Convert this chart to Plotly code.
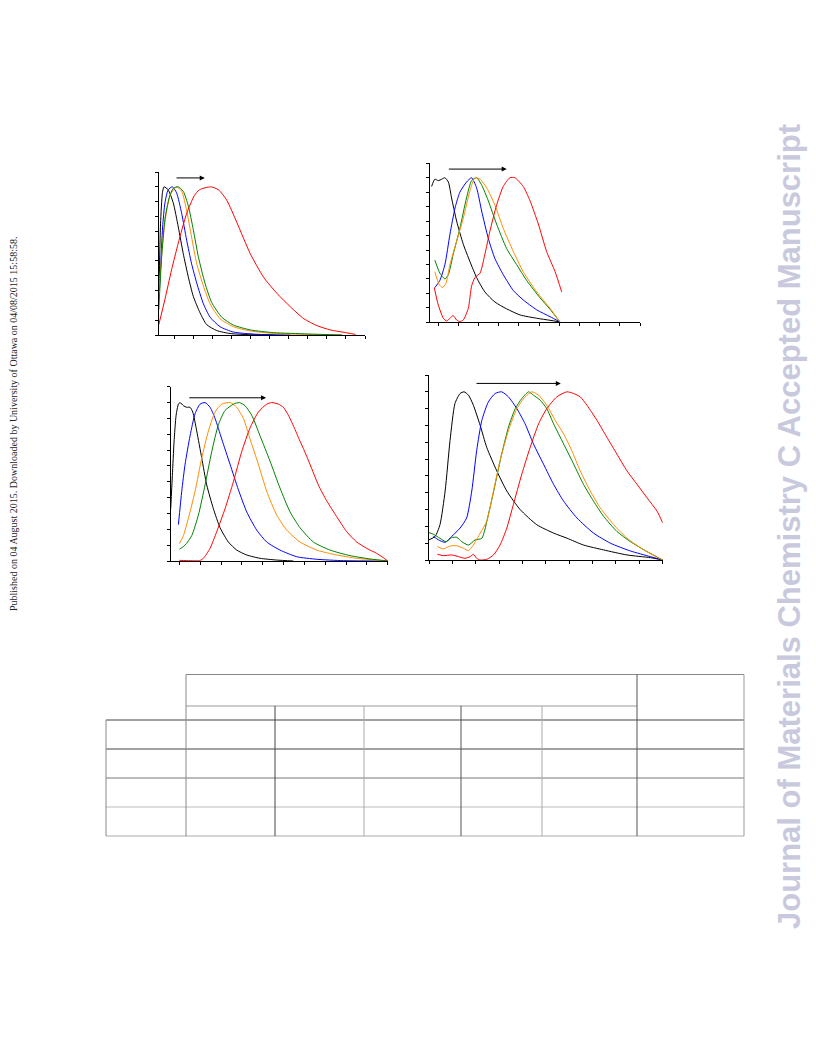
import plotly.graph_objects as go

W, H = 816, 1056
OFF = 8  # page body margin offset in the browser

# ---------------- data (x in tick units, y normalised intensity) ----------------
# Panel 1 (top-left)
p1_black_x = [-0.8, -0.72, -0.62, -0.54, -0.32, -0.05, 0.21, 0.47, 0.74, 1.0, 1.35, 1.70, 2.23, 2.93, 3.98, 5.2]
p1_black_y = [0.3, 0.75, 0.96, 1.0, 0.98, 0.89, 0.73, 0.55, 0.39, 0.26, 0.15, 0.07, 0.03, 0.01, 0.002, 0.0]
p1_blue_x = [-0.78, -0.72, -0.61, -0.49, -0.32, -0.1, 0.12, 0.39, 0.65, 0.91, 1.18, 1.53, 1.88, 2.4, 3.1, 4.3, 6.1]
p1_blue_y = [0.3, 0.44, 0.73, 0.89, 0.98, 1.0, 0.96, 0.82, 0.64, 0.48, 0.35, 0.21, 0.12, 0.056, 0.02, 0.005, 0.0]
p1_orange_x = [-0.8, -0.75, -0.58, -0.40, -0.19, 0.12, 0.39, 0.65, 0.91, 1.18, 1.53, 1.88, 2.4, 3.1, 4.0, 5.2, 7.0, 8.8]
p1_orange_y = [0.3, 0.39, 0.66, 0.84, 0.95, 1.0, 0.97, 0.84, 0.66, 0.48, 0.33, 0.21, 0.11, 0.056, 0.027, 0.011, 0.004, 0.0]
p1_green_x = [-0.81, -0.67, -0.49, -0.26, -0.05, 0.21, 0.47, 0.74, 1.0, 1.26, 1.61, 1.96, 2.49, 3.1, 4.0, 5.2, 7.0, 8.8]
p1_green_y = [0.17, 0.51, 0.78, 0.93, 0.99, 1.0, 0.97, 0.87, 0.71, 0.53, 0.35, 0.22, 0.12, 0.067, 0.034, 0.016, 0.007, 0.0]
p1_red_x = [-0.81, -0.49, -0.14, 0.21, 0.65, 1.05, 1.32, 1.91, 2.32, 2.75, 3.28, 3.98, 4.68, 5.39, 6.09, 6.79, 7.49, 8.19, 8.9, 9.5]
p1_red_y = [0.07, 0.24, 0.44, 0.62, 0.82, 0.94, 0.98, 1.0, 0.98, 0.91, 0.76, 0.55, 0.39, 0.28, 0.19, 0.11, 0.063, 0.034, 0.018, 0.004]

# Panel 2 (top-right)
p2_black_x = [-0.33, -0.17, 0.0, 0.17, 0.33, 0.5, 0.66, 0.91, 1.24, 1.57, 1.9, 2.31, 2.81, 3.39, 4.05, 4.88, 5.54, 6.03]
p2_black_y = [0.94, 0.99, 0.98, 0.99, 1.0, 0.97, 0.86, 0.70, 0.54, 0.42, 0.31, 0.21, 0.14, 0.093, 0.051, 0.028, 0.014, 0.003]
p2_blue_x = [-0.17, 0.08, 0.33, 0.58, 0.83, 1.07, 1.4, 1.65, 1.9, 2.15, 2.48, 2.81, 3.22, 3.72, 4.21, 4.88, 5.54, 6.03]
p2_blue_y = [0.24, 0.29, 0.40, 0.61, 0.79, 0.90, 0.97, 1.0, 0.93, 0.77, 0.58, 0.44, 0.33, 0.22, 0.155, 0.086, 0.039, 0.003]
p2_green_x = [-0.17, 0.08, 0.33, 0.5, 0.74, 1.07, 1.4, 1.65, 1.9, 2.15, 2.48, 2.89, 3.39, 3.88, 4.38, 5.04, 5.54, 6.03]
p2_green_y = [0.43, 0.34, 0.30, 0.33, 0.47, 0.65, 0.86, 0.98, 1.0, 0.95, 0.84, 0.68, 0.51, 0.40, 0.29, 0.17, 0.09, 0.003]
p2_orange_x = [-0.17, 0.05, 0.21, 0.38, 0.58, 0.91, 1.24, 1.57, 1.82, 2.07, 2.40, 2.81, 3.22, 3.72, 4.21, 4.88, 5.54, 6.03]
p2_orange_y = [0.35, 0.26, 0.24, 0.27, 0.40, 0.56, 0.72, 0.91, 1.0, 0.99, 0.93, 0.81, 0.65, 0.49, 0.35, 0.21, 0.097, 0.003]
p2_red_x = [-0.2, 0.0, 0.25, 0.41, 0.58, 0.74, 0.91, 1.07, 1.24, 1.49, 1.65, 1.82, 2.07, 2.31, 2.56, 2.89, 3.22, 3.55, 3.8, 4.21, 4.55, 4.96, 5.37, 5.79, 6.12]
p2_red_y = [0.24, 0.12, 0.028, 0.009, 0.028, 0.046, 0.016, 0.005, 0.016, 0.097, 0.25, 0.31, 0.34, 0.47, 0.63, 0.81, 0.94, 1.0, 1.0, 0.94, 0.84, 0.68, 0.49, 0.35, 0.21]

# Panel 3 (bottom-left)
p3_black_x = [-0.42, -0.34, -0.26, -0.16, -0.05, 0.03, 0.19, 0.35, 0.51, 0.64, 0.83, 1.07, 1.31, 1.63, 1.95, 2.35, 2.75, 3.23, 3.87, 4.67, 5.47]
p3_black_y = [0.33, 0.54, 0.75, 0.92, 0.99, 1.0, 0.98, 0.97, 0.97, 0.94, 0.82, 0.65, 0.48, 0.33, 0.21, 0.12, 0.069, 0.038, 0.017, 0.006, 0.0]
p3_blue_x = [-0.05, 0.11, 0.27, 0.51, 0.75, 0.99, 1.23, 1.47, 1.71, 2.03, 2.43, 2.83, 3.23, 3.71, 4.19, 4.83, 5.63, 6.59, 7.87, 10.0]
p3_blue_y = [0.23, 0.44, 0.61, 0.79, 0.93, 0.99, 1.0, 0.97, 0.90, 0.77, 0.61, 0.45, 0.31, 0.195, 0.12, 0.069, 0.027, 0.011, 0.002, 0.0]
p3_orange_x = [0.0, 0.19, 0.43, 0.75, 1.07, 1.39, 1.71, 2.03, 2.43, 2.75, 3.07, 3.39, 3.79, 4.19, 4.67, 5.15, 5.79, 6.59, 7.55, 8.51, 9.47, 10.0]
p3_orange_y = [0.11, 0.16, 0.27, 0.44, 0.65, 0.82, 0.94, 0.99, 1.0, 0.97, 0.90, 0.77, 0.61, 0.44, 0.29, 0.195, 0.12, 0.069, 0.038, 0.017, 0.006, 0.0]
p3_green_x = [0.0, 0.27, 0.59, 0.91, 1.23, 1.55, 1.87, 2.19, 2.59, 2.88, 3.15, 3.47, 3.87, 4.35, 4.83, 5.31, 5.79, 6.43, 7.23, 8.19, 9.15, 10.0]
p3_green_y = [0.074, 0.10, 0.16, 0.29, 0.48, 0.69, 0.86, 0.95, 0.99, 1.0, 0.98, 0.92, 0.79, 0.63, 0.46, 0.31, 0.21, 0.12, 0.069, 0.034, 0.013, 0.0]
p3_red_x = [0.0, 0.51, 0.96, 1.15, 1.47, 1.79, 2.19, 2.59, 2.99, 3.39, 3.79, 4.19, 4.43, 4.75, 4.99, 5.23, 5.55, 5.71, 5.95, 6.27, 6.67, 7.07, 7.55, 8.03, 8.51, 8.99, 9.47, 9.79, 10.0]
p3_red_y = [0.004, 0.002, 0.002, 0.017, 0.08, 0.185, 0.33, 0.5, 0.69, 0.84, 0.94, 0.99, 1.0, 0.99, 0.97, 0.92, 0.83, 0.78, 0.71, 0.61, 0.48, 0.38, 0.28, 0.185, 0.12, 0.08, 0.048, 0.021, 0.0]

# Panel 4 (bottom-right)
p4_black_x = [0.0, 0.26, 0.47, 0.69, 0.9, 1.11, 1.33, 1.5, 1.69, 1.9, 2.19, 2.47, 2.9, 3.33, 3.9, 4.61, 5.33, 5.9, 6.61, 7.47, 8.47, 9.47, 10.0]
p4_black_y = [0.12, 0.14, 0.21, 0.41, 0.71, 0.93, 0.99, 1.0, 0.98, 0.92, 0.80, 0.67, 0.53, 0.41, 0.30, 0.21, 0.16, 0.13, 0.089, 0.06, 0.03, 0.014, 0.0]
p4_blue_x = [0.19, 0.4, 0.69, 0.97, 1.33, 1.61, 1.83, 2.04, 2.26, 2.54, 2.83, 3.11, 3.4, 3.76, 4.11, 4.47, 4.9, 5.33, 5.76, 6.33, 7.04, 7.76, 8.61, 9.47, 10.0]
p4_blue_y = [0.14, 0.12, 0.105, 0.14, 0.19, 0.25, 0.41, 0.65, 0.83, 0.94, 0.99, 1.0, 0.97, 0.90, 0.81, 0.69, 0.57, 0.45, 0.35, 0.25, 0.16, 0.1, 0.054, 0.02, 0.0]
p4_green_x = [0.0, 0.19, 0.47, 0.73, 0.97, 1.19, 1.4, 1.69, 1.97, 2.26, 2.54, 2.83, 3.11, 3.4, 3.69, 3.97, 4.26, 4.47, 4.76, 5.04, 5.33, 5.76, 6.19, 6.61, 7.04, 7.47, 8.04, 8.61, 9.33, 10.0]
p4_green_y = [0.163, 0.153, 0.129, 0.109, 0.133, 0.135, 0.109, 0.089, 0.119, 0.129, 0.27, 0.45, 0.63, 0.79, 0.90, 0.96, 1.0, 0.98, 0.95, 0.90, 0.81, 0.69, 0.57, 0.45, 0.35, 0.26, 0.17, 0.11, 0.05, 0.0]
p4_orange_x = [0.36, 0.61, 0.9, 1.19, 1.47, 1.69, 1.9, 2.19, 2.47, 2.76, 3.04, 3.4, 3.76, 4.11, 4.4, 4.69, 5.04, 5.4, 5.76, 6.11, 6.47, 6.9, 7.33, 7.9, 8.47, 9.19, 10.0]
p4_orange_y = [0.08, 0.066, 0.083, 0.085, 0.07, 0.056, 0.089, 0.16, 0.23, 0.41, 0.59, 0.77, 0.90, 0.97, 1.0, 0.98, 0.92, 0.83, 0.75, 0.65, 0.53, 0.41, 0.31, 0.21, 0.13, 0.06, 0.0]
p4_red_x = [0.36, 0.61, 0.97, 1.26, 1.54, 1.76, 1.9, 2.04, 2.19, 2.47, 2.76, 3.04, 3.33, 3.61, 3.97, 4.33, 4.69, 5.04, 5.47, 5.9, 6.19, 6.47, 6.76, 7.19, 7.61, 8.04, 8.47, 8.9, 9.33, 9.76, 10.0]
p4_red_y = [0.034, 0.026, 0.03, 0.02, 0.01, 0.02, 0.034, 0.01, 0.0, 0.004, 0.03, 0.089, 0.19, 0.33, 0.51, 0.67, 0.81, 0.90, 0.97, 1.0, 0.99, 0.97, 0.92, 0.83, 0.73, 0.63, 0.53, 0.45, 0.37, 0.29, 0.22]

# arrows (start x, end x, y) per panel
arrow_x0 = [0.04, 0.45, 0.40, 1.97]
arrow_x1 = [1.60, 3.39, 4.16, 5.64]
arrow_y = [1.06, 1.06, 1.03, 1.05]

# table grid (page pixels)
table_cols = [106, 186, 275, 364, 461, 542, 637, 744]
table_rows = [674.5, 706, 720, 749, 778, 807, 836]

side_left = "Published on 04 August 2015. Downloaded by University of Ottawa on 04/08/2015 15:58:58."
side_right = "Journal of Materials Chemistry C Accepted Manuscript"

# ---------------- layout helpers ----------------
panels = [
    dict(px=(159, 365), py=(172, 335), xr=[-0.8, 10.0]),
    dict(px=(430, 640), py=(163.3, 322.3), xr=[-0.41, 10.0]),
    dict(px=(170.7, 387.7), py=(386.7, 561), xr=[-0.42, 10.0]),
    dict(px=(429, 662.7), py=(375, 560), xr=[0.0, 10.0]),
]
series = [
    [(p1_black_x, p1_black_y, "black"), (p1_blue_x, p1_blue_y, "blue"), (p1_orange_x, p1_orange_y, "#ff8c00"),
     (p1_green_x, p1_green_y, "green"), (p1_red_x, p1_red_y, "red")],
    [(p2_black_x, p2_black_y, "black"), (p2_blue_x, p2_blue_y, "blue"), (p2_green_x, p2_green_y, "green"),
     (p2_orange_x, p2_orange_y, "#ff8c00"), (p2_red_x, p2_red_y, "red")],
    [(p3_black_x, p3_black_y, "black"), (p3_blue_x, p3_blue_y, "blue"), (p3_orange_x, p3_orange_y, "#ff8c00"),
     (p3_green_x, p3_green_y, "green"), (p3_red_x, p3_red_y, "red")],
    [(p4_black_x, p4_black_y, "black"), (p4_blue_x, p4_blue_y, "blue"), (p4_green_x, p4_green_y, "green"),
     (p4_orange_x, p4_orange_y, "#ff8c00"), (p4_red_x, p4_red_y, "red")],
]

def fx(px):
    return (px - OFF) / W

def fy(py):
    return 1 - (py - OFF) / H

fig = go.Figure()
layout = dict(width=W, height=H, margin=dict(l=0, r=0, t=0, b=0),
              paper_bgcolor="white", plot_bgcolor="white", showlegend=False)

annotations = []
for i, (pn, ser) in enumerate(zip(panels, series), start=1):
    xa = "x" if i == 1 else f"x{i}"
    ya = "y" if i == 1 else f"y{i}"
    for xs, ys, c in ser:
        fig.add_trace(go.Scatter(x=xs, y=ys, mode="lines", line=dict(color=c, width=1, shape="spline", smoothing=0.6),
                                 xaxis=xa, yaxis=ya, hoverinfo="skip"))
    x0, x1 = pn["px"]
    yt, yb = pn["py"]
    layout["xaxis" if i == 1 else f"xaxis{i}"] = dict(
        domain=[fx(x0), fx(x1)], range=pn["xr"], anchor=ya, showline=True, linecolor="black", linewidth=1,
        ticks="outside", ticklen=3, tickcolor="black", tickwidth=1, tick0=0, dtick=1,
        showticklabels=False, showgrid=False, zeroline=False)
    layout["yaxis" if i == 1 else f"yaxis{i}"] = dict(
        domain=[fy(yb), fy(yt)], range=[0, 1.1], anchor=xa, showline=True, linecolor="black", linewidth=1,
        ticks="outside", ticklen=3, tickcolor="black", tickwidth=1, tick0=0, dtick=0.1,
        showticklabels=False, showgrid=False, zeroline=False)
    annotations.append(dict(x=arrow_x1[i - 1], y=arrow_y[i - 1], ax=arrow_x0[i - 1], ay=arrow_y[i - 1],
                            xref=xa, yref=ya, axref=xa, ayref=ya, text="", showarrow=True,
                            arrowhead=2, arrowsize=1, arrowwidth=1, arrowcolor="black"))

annotations.append(dict(x=fx(13), y=fy(424), xref="paper", yref="paper", text=side_left, showarrow=False,
                        xanchor="center", yanchor="middle",
                        textangle=-90, font=dict(family="Liberation Serif", size=10, color="#222")))
annotations.append(dict(x=fx(789), y=fy(527), xref="paper", yref="paper", text="<b>" + side_right + "</b>",
                        showarrow=False, textangle=-90, xanchor="center", yanchor="middle",
                        font=dict(family="Liberation Sans", size=31, color="#c9c9de")))

shapes = []
def hline(y, xa, xb, col):
    shapes.append(dict(type="line", xref="paper", yref="paper", x0=fx(xa), x1=fx(xb), y0=fy(y), y1=fy(y),
                       line=dict(color=col, width=1)))
def vline(x, ya, yb, col):
    shapes.append(dict(type="line", xref="paper", yref="paper", x0=fx(x), x1=fx(x), y0=fy(ya), y1=fy(yb),
                       line=dict(color=col, width=1)))

c = table_cols
r = table_rows
hline(r[0], c[1], c[7], "#888")
hline(r[1], c[1], c[6], "#999")
hline(r[2], c[0], c[7], "#444")
hline(r[3], c[0], c[7], "#444")
hline(r[4], c[0], c[7], "#777")
hline(r[5], c[0], c[7], "#bbb")
hline(r[6], c[0], c[7], "#aaa")
vline(c[0], r[2], r[6], "#888")
vline(c[1], r[0], r[6], "#888")
for x, col in zip(c[2:6], ["#444", "#aaa", "#555", "#aaa"]):
    vline(x, r[1], r[6], col)
vline(c[6], r[0], r[6], "#555")
vline(c[7], r[0], r[6], "#999")

layout["annotations"] = annotations
layout["shapes"] = shapes
fig.update_layout(**layout)
fig.write_html("out.html")
